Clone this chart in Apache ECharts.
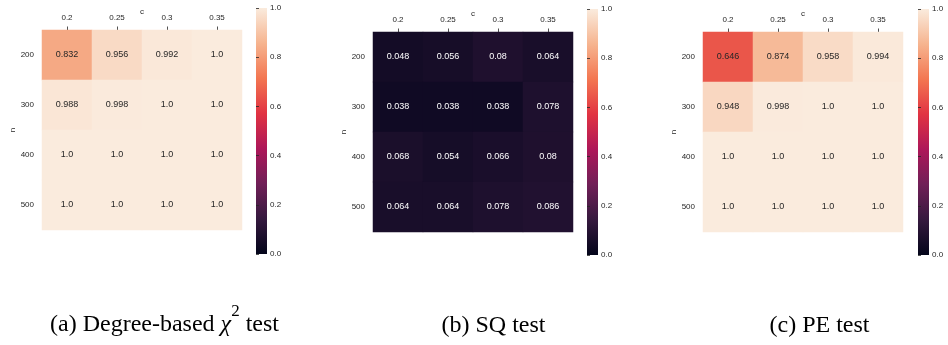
<!DOCTYPE html>
<html>
<head>
<meta charset="utf-8">
<script src="https://cdn.jsdelivr.net/npm/echarts@6/dist/echarts.min.js"></script>
<style>
  html, body { margin: 0; padding: 0; background: #fff; }
  #chart { width: 948px; height: 345px; }
</style>
</head>
<body>
<div id="chart"></div>
<script>
// axis categories
const cLabels = ["0.2", "0.25", "0.3", "0.35"];
const nLabels = ["200", "300", "400", "500"];

// rejection rates, rows = n, cols = c
const chiValues = [
	[0.832, 0.956, 0.992, 1.0],
	[0.988, 0.998, 1.0, 1.0],
	[1.0, 1.0, 1.0, 1.0],
	[1.0, 1.0, 1.0, 1.0]
];
const sqValues = [
	[0.048, 0.056, 0.08, 0.064],
	[0.038, 0.038, 0.038, 0.078],
	[0.068, 0.054, 0.066, 0.08],
	[0.064, 0.064, 0.078, 0.086]
];
const peValues = [
	[0.646, 0.874, 0.958, 0.994],
	[0.948, 0.998, 1.0, 1.0],
	[1.0, 1.0, 1.0, 1.0],
	[1.0, 1.0, 1.0, 1.0]
];
const captions = ["(a) Degree-based ", "(b) SQ test", "(c) PE test"];

// seaborn "rocket" colormap, evenly spaced stops
const rocket = ["#03051a", "#35193e", "#701f57", "#ad1759", "#e13342", "#f37651", "#f6b48f", "#faebdd"];

const textColor = "#262626";
const sans = "Liberation Sans";
const serif = "Liberation Serif";

const panels = [
	{ values: chiValues, left: 42, top: 30, cbLeft: 256, cbTop: 8, capX: 164.5 },
	{ values: sqValues, left: 373, top: 32, cbLeft: 587, cbTop: 9, capX: 493.5 },
	{ values: peValues, left: 703, top: 32, cbLeft: 918, cbTop: 9, capX: 819.5 }
];
const size = 200;
const cbWidth = 11;
const cbHeight = 246;

const fmt = v => (Number.isInteger(v) ? v.toFixed(1) : String(v));

const grid = [];
const xAxis = [];
const yAxis = [];
const series = [];
const visualMap = [];
const graphic = [];

// colorbar gradient, bottom (0) to top (1)
const cbFill = {
	type: "linear", x: 0, y: 1, x2: 0, y2: 0,
	colorStops: rocket.map((c, k) => ({ offset: k / (rocket.length - 1), color: c }))
};

panels.forEach((p, i) => {
	// heatmap grid
	grid.push({ left: p.left, top: p.top, width: size, height: size, show: false });
	xAxis.push({
		type: "category", gridIndex: 2 * i, position: "top", data: cLabels,
		name: "c", nameLocation: "middle", nameGap: 14, nameMoveOverlap: false,
		nameTextStyle: { fontSize: 8, color: textColor, fontFamily: sans },
		axisLine: { show: false },
		axisTick: { show: true, alignWithLabel: true, length: 3.5, lineStyle: { color: textColor, width: 0.8 } },
		axisLabel: { fontSize: 8, color: textColor, fontFamily: sans, margin: 8 },
		splitLine: { show: false }
	});
	yAxis.push({
		type: "category", gridIndex: 2 * i, inverse: true, data: nLabels,
		name: "n", nameLocation: "middle", nameGap: 25, nameRotate: 90, nameMoveOverlap: false,
		nameTextStyle: { fontSize: 8, color: textColor, fontFamily: sans },
		axisLine: { show: false },
		axisTick: { show: false },
		axisLabel: { fontSize: 8, color: textColor, fontFamily: sans, margin: 8 },
		splitLine: { show: false }
	});
	const data = [];
	p.values.forEach((row, r) => {
		row.forEach((v, c) => {
			data.push({
				value: [c, r, v],
				label: { color: v > 0.5 ? textColor : "#ffffff" }
			});
		});
	});
	series.push({
		type: "heatmap", xAxisIndex: 2 * i, yAxisIndex: 2 * i, data,
		label: {
			show: true, fontSize: 9, fontFamily: sans,
			formatter: d => fmt(d.value[2])
		},
		itemStyle: { borderWidth: 0 },
		emphasis: { disabled: true }
	});
	visualMap.push({
		type: "continuous", show: false, min: 0, max: 1, seriesIndex: i, dimension: 2,
		inRange: { color: rocket }
	});

	// colorbar: gradient rect plus a value axis for the ticks
	graphic.push({
		type: "rect", x: p.cbLeft, y: p.cbTop, silent: true,
		shape: { width: cbWidth, height: cbHeight },
		style: { fill: cbFill }
	});
	grid.push({ left: p.cbLeft, top: p.cbTop, width: cbWidth, height: cbHeight, show: false });
	xAxis.push({ type: "value", gridIndex: 2 * i + 1, show: false });
	yAxis.push({
		type: "value", gridIndex: 2 * i + 1, position: "right", min: 0, max: 1, interval: 0.2,
		axisLine: { show: false },
		axisTick: { show: true, length: 3, lineStyle: { color: textColor, width: 0.8 } },
		axisLabel: { fontSize: 8, color: textColor, fontFamily: sans, margin: 3, formatter: v => v.toFixed(1) },
		splitLine: { show: false }
	});

	// caption
	graphic.push({
		type: "text", x: p.capX, y: i === 0 ? 325 : 326,
		style: i === 0
			? {
				text: "{n|" + captions[0] + "}{chi|χ}{sup|2}{n| test}",
				align: "center", verticalAlign: "middle",
				rich: {
					n: { fontSize: 24, fontFamily: serif, fill: "#000" },
					chi: { fontSize: 24, fontFamily: serif, fontStyle: "italic", fill: "#000" },
					sup: { fontSize: 17, fontFamily: serif, fill: "#000", verticalAlign: "top", padding: [0, 0, 26, 0] }
				}
			}
			: {
				text: captions[i], align: "center", verticalAlign: "middle",
				fontSize: 24, fontFamily: serif, fill: "#000"
			}
	});
});

const option = {
	backgroundColor: "#ffffff",
	animation: false,
	grid, xAxis, yAxis, series, visualMap, graphic
};

const chart = echarts.init(document.getElementById("chart"), null, { renderer: "canvas" });
chart.setOption(option);
</script>
</body>
</html>
